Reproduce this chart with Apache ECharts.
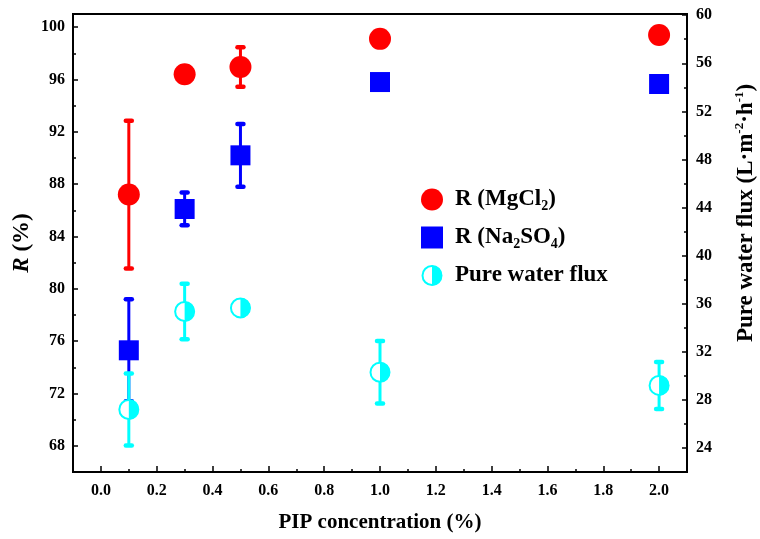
<!DOCTYPE html>
<html>
<head>
<meta charset="utf-8">
<script src="https://cdn.jsdelivr.net/npm/echarts@6/dist/echarts.min.js"></script>
<style>
  html, body { margin: 0; padding: 0; background: #fff; }
  #chart { width: 760px; height: 539px; }
</style>
</head>
<body>
<div id="chart"></div>
<script>
// PIP concentration (%) used for each membrane
const pipConc = [0.1, 0.3, 0.5, 1.0, 2.0];

// Salt rejection R (%) with standard deviations
const rMgCl2 = [87.2, 96.4, 96.95, 99.1, 99.4];
const rMgCl2Err = [5.65, 0.6, 1.5, 0.4, 0.35];
const rNa2SO4 = [75.3, 86.1, 90.2, 95.8, 95.65];
const rNa2SO4Err = [3.9, 1.25, 2.4, 0.3, 0.3];

// Pure water flux (L·m-2·h-1) with standard deviations
const waterFlux = [27.2, 35.35, 35.65, 30.3, 29.2];
const waterFluxErr = [3.0, 2.3, 0.6, 2.6, 1.95];

// Tick positions
const xMajorTicks = [0.0, 0.2, 0.4, 0.6, 0.8, 1.0, 1.2, 1.4, 1.6, 1.8, 2.0];
const xMinorTicks = [0.1, 0.3, 0.5, 0.7, 0.9, 1.1, 1.3, 1.5, 1.7, 1.9];
const rMajorTicks = [68, 72, 76, 80, 84, 88, 92, 96, 100];
const rMinorTicks = [70, 74, 78, 82, 86, 90, 94, 98];
const fluxMajorTicks = [24, 28, 32, 36, 40, 44, 48, 52, 56, 60];
const fluxMinorTicks = [26, 30, 34, 38, 42, 46, 50, 54, 58];

const seriesNames = ['R (MgCl2)', 'R (Na2SO4)', 'Pure water flux'];
const legendLabels = {
  'R (MgCl2)': '{b|R (MgCl}{sub|2}{b|)}',
  'R (Na2SO4)': '{b|R (Na}{sub|2}{b|SO}{sub|4}{b|)}',
  'Pure water flux': '{b|Pure water flux}'
};

const RED = '#ff0000', BLUE = '#0000ff', CYAN = '#00ffff';
const FONT = '"Liberation Serif", "Times New Roman", serif';
const X_RANGE = [-0.1, 2.1];
const R_RANGE = [66, 101];
const FLUX_RANGE = [22, 60.1];

function withError(values, errs) {
  return pipConc.map((x, i) => [x, values[i] - errs[i], values[i] + errs[i]]);
}
function points(values) {
  return pipConc.map((x, i) => [x, values[i]]);
}

function errorBar(color) {
  return function (params, api) {
    const x = api.value(0);
    const lo = api.coord([x, api.value(1)]);
    const hi = api.coord([x, api.value(2)]);
    const hw = 3;
    const cap = { stroke: color, lineWidth: 4.5, lineCap: 'round' };
    return {
      type: 'group',
      children: [
        { type: 'line', shape: { x1: hi[0], y1: hi[1], x2: lo[0], y2: lo[1] }, style: { stroke: color, lineWidth: 3 } },
        { type: 'line', shape: { x1: hi[0] - hw, y1: hi[1], x2: hi[0] + hw, y2: hi[1] }, style: cap },
        { type: 'line', shape: { x1: lo[0] - hw, y1: lo[1], x2: lo[0] + hw, y2: lo[1] }, style: cap }
      ]
    };
  };
}

function halfCircle(params, api) {
  const p = api.coord([api.value(0), api.value(1)]);
  const r = 9.5;
  return {
    type: 'group',
    children: [
      { type: 'circle', shape: { cx: p[0], cy: p[1], r: r }, style: { fill: '#fff', stroke: CYAN, lineWidth: 2 } },
      { type: 'sector', shape: { cx: p[0], cy: p[1], r0: 0, r: r + 0.5, startAngle: -Math.PI / 2, endAngle: Math.PI / 2, clockwise: true }, style: { fill: CYAN } }
    ]
  };
}

const halfIconSvg = "<svg xmlns='http://www.w3.org/2000/svg' width='44' height='44'>" +
  "<circle cx='22' cy='22' r='19' fill='white' stroke='#00ffff' stroke-width='4'/>" +
  "<path d='M22 2 A20 20 0 0 1 22 42 Z' fill='#00ffff'/></svg>";
const halfIcon = 'image://data:image/svg+xml;charset=utf-8,' + encodeURIComponent(halfIconSvg);

const tickLabelStyle = { fontFamily: FONT, fontWeight: 'bold', fontSize: 16, color: '#000' };
const axisLineStyle = { onZero: false, lineStyle: { color: '#000', width: 2 } };

function minorAxis(range, ticks, position) {
  return {
    type: 'value', min: range[0], max: range[1], position: position,
    axisLine: { show: false, onZero: false }, splitLine: { show: false },
    axisLabel: { show: false },
    axisTick: { show: true, inside: true, length: 3, customValues: ticks, lineStyle: { color: '#000', width: 1.5 } }
  };
}

const chart = echarts.init(document.getElementById('chart'));
chart.setOption({
  backgroundColor: '#fff',
  animation: false,
  grid: {
    left: 73, right: 73, top: 14, bottom: 67,
    outerBoundsMode: 'none',
    show: true, borderColor: '#000', borderWidth: 2, backgroundColor: 'transparent'
  },
  legend: {
    orient: 'vertical', left: 416, top: 183,
    itemWidth: 22, itemHeight: 22, itemGap: 13,
    data: [
      { name: seriesNames[0], icon: 'circle' },
      { name: seriesNames[1], icon: 'rect' },
      { name: seriesNames[2], icon: halfIcon }
    ],
    formatter: name => legendLabels[name],
    textStyle: {
      padding: [0, 0, 0, 7],
      rich: {
        b: { fontFamily: FONT, fontWeight: 'bold', fontSize: 23, color: '#000' },
        sub: { fontFamily: FONT, fontWeight: 'bold', fontSize: 14, color: '#000', padding: [13, 0, 0, 0] }
      }
    }
  },
  xAxis: [
    {
      type: 'value', min: X_RANGE[0], max: X_RANGE[1], position: 'bottom',
      name: 'PIP concentration (%)', nameLocation: 'middle', nameGap: 40,
      nameTextStyle: { fontFamily: FONT, fontWeight: 'bold', fontSize: 21, color: '#000' },
      axisLine: axisLineStyle, splitLine: { show: false },
      axisTick: { inside: true, length: 6, customValues: xMajorTicks, lineStyle: { color: '#000', width: 1.5 } },
      axisLabel: { margin: 11, customValues: xMajorTicks, formatter: v => v.toFixed(1), ...tickLabelStyle }
    },
    minorAxis(X_RANGE, xMinorTicks, 'bottom')
  ],
  yAxis: [
    {
      type: 'value', min: R_RANGE[0], max: R_RANGE[1], position: 'left',
      name: '{i|R}{n| (%)}', nameLocation: 'middle', nameGap: 39, nameRotate: 90,
      nameMoveOverlap: false,
      nameTextStyle: {
        rich: {
          i: { fontFamily: FONT, fontWeight: 'bold', fontStyle: 'italic', fontSize: 23, color: '#000' },
          n: { fontFamily: FONT, fontWeight: 'bold', fontSize: 23, color: '#000' }
        }
      },
      axisLine: { show: true, ...axisLineStyle }, splitLine: { show: false },
      axisTick: { inside: true, length: 5, customValues: rMajorTicks, lineStyle: { color: '#000', width: 1.5 } },
      axisLabel: { margin: 8, customValues: rMajorTicks, ...tickLabelStyle }
    },
    {
      type: 'value', min: FLUX_RANGE[0], max: FLUX_RANGE[1], position: 'right',
      name: '{n|Pure water flux (L·m}{sup|-2}{n|·h}{sup|-1}{n|)}', nameLocation: 'middle', nameGap: 46, nameRotate: 90,
      nameTextStyle: {
        padding: [0, 0, 0, 60],
        rich: {
          n: { fontFamily: FONT, fontWeight: 'bold', fontSize: 23, color: '#000' },
          sup: { fontFamily: FONT, fontWeight: 'bold', fontSize: 13, color: '#000', padding: [0, 0, 13, 0] }
        }
      },
      axisLine: { show: true, ...axisLineStyle }, splitLine: { show: false },
      axisTick: { inside: true, length: 5, customValues: fluxMajorTicks, lineStyle: { color: '#000', width: 1.5 } },
      axisLabel: { margin: 9, customValues: fluxMajorTicks, ...tickLabelStyle }
    },
    minorAxis(R_RANGE, rMinorTicks, 'left'),
    minorAxis(FLUX_RANGE, fluxMinorTicks, 'right')
  ],
  series: [
    { name: 'MgCl2 error', type: 'custom', xAxisIndex: 0, yAxisIndex: 0, renderItem: errorBar(RED), data: withError(rMgCl2, rMgCl2Err), silent: true },
    { name: seriesNames[0], type: 'scatter', xAxisIndex: 0, yAxisIndex: 0, symbol: 'circle', symbolSize: 22, itemStyle: { color: RED, opacity: 1 }, data: points(rMgCl2) },
    { name: 'Na2SO4 error', type: 'custom', xAxisIndex: 0, yAxisIndex: 0, renderItem: errorBar(BLUE), data: withError(rNa2SO4, rNa2SO4Err), silent: true },
    { name: seriesNames[1], type: 'scatter', xAxisIndex: 0, yAxisIndex: 0, symbol: 'rect', symbolSize: 20, itemStyle: { color: BLUE, opacity: 1 }, data: points(rNa2SO4) },
    { name: 'Flux error', type: 'custom', xAxisIndex: 0, yAxisIndex: 1, renderItem: errorBar(CYAN), data: withError(waterFlux, waterFluxErr), silent: true },
    { name: seriesNames[2], type: 'custom', xAxisIndex: 0, yAxisIndex: 1, renderItem: halfCircle, itemStyle: { color: CYAN }, data: points(waterFlux) }
  ]
});
</script>
</body>
</html>
